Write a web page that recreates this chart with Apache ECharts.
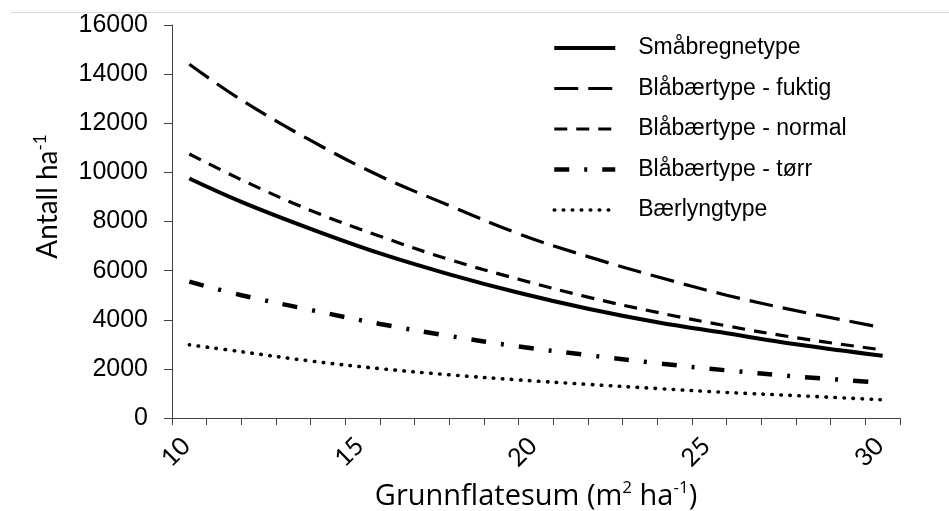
<!DOCTYPE html>
<html>
<head>
<meta charset="utf-8">
<script src="https://cdn.jsdelivr.net/npm/echarts@6/dist/echarts.min.js"></script>
<style>html,body{margin:0;padding:0;background:#fff;}#c{width:949px;height:511px;}</style>
</head>
<body>
<div id="c"></div>
<script>
const xValues = [10.5, 12, 14, 16, 18, 20, 22, 24, 26, 28, 30.5];
const smabregne = [9750, 8800, 7700, 6700, 5850, 5100, 4450, 3900, 3450, 3000, 2530];
const fuktig = [14400, 12950, 11300, 9850, 8650, 7500, 6570, 5750, 5000, 4370, 3680];
const normal = [10750, 9700, 8450, 7400, 6450, 5650, 4920, 4300, 3750, 3270, 2770];
const torr = [5550, 5000, 4400, 3830, 3340, 2910, 2560, 2230, 1940, 1690, 1440];
const baerlyng = [2980, 2700, 2320, 2010, 1760, 1550, 1370, 1200, 1040, 910, 740];
const seriesNames = ['Småbregnetype', 'Blåbærtype - fuktig', 'Blåbærtype - normal', 'Blåbærtype - tørr', 'Bærlyngtype'];
const xLabelStep = 5;

const pair = (ys) => xValues.map((x, i) => [x, ys[i]]);
const axisColor = '#404040';
const arial = '"Liberation Sans", Arial, sans-serif';
const calibri = 'Lato, sans-serif';
const wide = '"Open Sans", sans-serif';
const chart = echarts.init(document.getElementById('c'));
const mk = (name, ys, ls) => ({
  name, type: 'line', data: pair(ys), symbol: 'none', showSymbol: false,
  smooth: 0.4, silent: true, animation: false,
  lineStyle: Object.assign({ color: '#000' }, ls),
  itemStyle: { color: '#000' }
});
const styles = [
  { width: 4, type: 'solid' },
  { width: 3.2, type: [24, 10], cap: 'butt' },
  { width: 3.2, type: [13, 9], cap: 'butt' },
  { width: 4.5, type: [15, 15, 3, 15], cap: 'butt' },
  { width: 3.6, type: [0.5, 8.5], cap: 'round' }
];
chart.setOption({
  animation: false,
  backgroundColor: '#fff',
  grid: { left: 172, right: 49, top: 25, bottom: 93, containLabel: false, outerBoundsMode: 'none' },
  graphic: [{ type: 'line', shape: { x1: 11, y1: 12.5, x2: 949, y2: 12.5 }, style: { stroke: '#d9d9d9', lineWidth: 1 } }],
  legend: {
    orient: 'vertical', left: 547, top: 31,
    itemWidth: 61, itemHeight: 24, itemGap: 16.5,
    selectedMode: false,
    itemStyle: { opacity: 0 },
    textStyle: { fontFamily: arial, fontSize: 23, color: '#000', padding: [0, 0, 0, 18], lineHeight: 24 },
    data: seriesNames.map((n, i) => ({ name: n, lineStyle: { width: styles[i].width, type: styles[i].type, cap: styles[i].cap || 'butt', color: '#000' } }))
  },
  xAxis: {
    type: 'value', min: 10, max: 31, interval: 1,
    name: '{a|Grunnflatesum (m}{s|2}{a| ha}{s|-1}{a|)}',
    nameLocation: 'middle', nameGap: 62,
    nameTextStyle: {
      rich: {
        a: { fontFamily: wide, fontSize: 29, color: '#000', lineHeight: 33 },
        s: { fontFamily: wide, fontSize: 17, color: '#000', lineHeight: 33, verticalAlign: 'top' }
      }
    },
    splitLine: { show: false },
    axisLine: { show: true, onZero: false, lineStyle: { color: axisColor, width: 1 } },
    axisTick: { show: true, inside: false, length: 7, lineStyle: { color: axisColor } },
    axisLabel: {
      rotate: 45, margin: 38, align: 'center', verticalAlign: 'middle',
      padding: [11, 0, 0, 11],
      fontFamily: calibri, fontSize: 25, color: '#000',
      formatter: (v) => (v % xLabelStep === 0 ? String(v) : '')
    }
  },
  yAxis: {
    type: 'value', min: 0, max: 16000, interval: 2000,
    name: '{a|Antall ha}{s|-1}',
    nameLocation: 'middle', nameGap: 108,
    nameTextStyle: {
      padding: [0, 0, 0, 50],
      rich: {
        a: { fontFamily: calibri, fontSize: 28, color: '#000', lineHeight: 32 },
        s: { fontFamily: calibri, fontSize: 17, color: '#000', lineHeight: 32, verticalAlign: 'top' }
      }
    },
    splitLine: { show: false },
    axisLine: { show: true, lineStyle: { color: axisColor, width: 1 } },
    axisTick: { show: true, inside: false, length: 8, lineStyle: { color: axisColor } },
    axisLabel: { margin: 24, fontFamily: arial, fontSize: 25, color: '#000', formatter: (v) => String(v) }
  },
  series: seriesNames.map((n, i) => mk(n, [smabregne, fuktig, normal, torr, baerlyng][i], styles[i]))
});
</script>
</body>
</html>
